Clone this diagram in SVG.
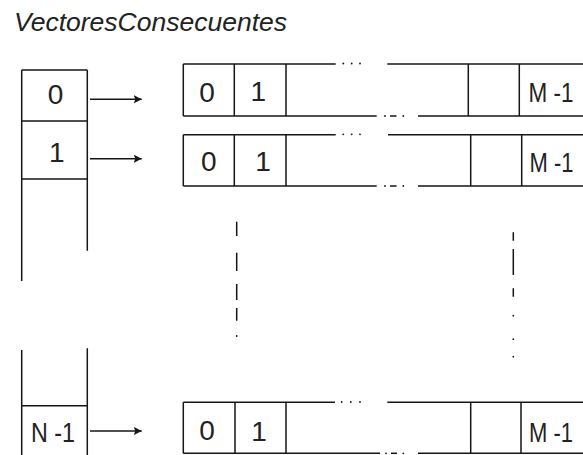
<svg xmlns="http://www.w3.org/2000/svg" width="583" height="455" viewBox="0 0 583 455">
  <style>
    .ln { stroke: #161616; stroke-width: 1.5; fill: none; stroke-linecap: butt; }
    .dot { fill: #161616; }
    .lbl { font-family: "Liberation Sans", Arial, sans-serif; font-size: 28px; fill: #222; }
    .last { font-size: 27px; }
    .mid { text-anchor: middle; }
    .title { font-family: "Liberation Sans", Arial, sans-serif; font-size: 26px; font-style: italic; fill: #222; }
  </style>
  <defs>
    <marker id="head" markerUnits="userSpaceOnUse" markerWidth="10" markerHeight="10" refX="8" refY="5" orient="auto">
      <path d="M0,0.8 L8,5 L0,9.2 L1.6,5 Z" fill="#161616"/>
    </marker>
  </defs>

  <rect width="583" height="455" fill="#fff"/>

  <text class="title" x="14" y="31" textLength="273" lengthAdjust="spacingAndGlyphs">VectoresConsecuentes</text>

  <!-- Index array of N slots -->
  <g id="index-array">
    <path class="ln" d="M21.7,70 H87.3 M21.7,70 V281 M87.3,70 V250.7 M21.7,121 H87.3 M21.7,179 H87.3"/>
    <path class="ln" d="M21.7,350 V455 M87.3,348.3 V455 M21.7,405.7 H87.3"/>
    <text class="lbl mid" x="55.5" y="104">0</text>
    <text class="lbl mid" x="56.8" y="161.5">1</text>
    <text class="lbl" x="31" y="442" textLength="44" lengthAdjust="spacingAndGlyphs">N -1</text>
  </g>

  <!-- Vector for slot 0 -->
  <g id="vector-0">
    <path class="ln" d="M183.3,64 H335.7 M387.3,64 H583 M183.3,116 H376.7 M418,116 H583 M183.3,64 V116 M234.3,64 V116 M286,64 V116 M468.3,64 V116 M519.3,64 V116"/>
    <circle class="dot" cx="343.3" cy="63.5" r="0.9"/>
    <circle class="dot" cx="351.7" cy="63.5" r="0.9"/>
    <circle class="dot" cx="360" cy="63.5" r="0.9"/>
    <circle class="dot" cx="385" cy="116" r="0.9"/>
    <path class="ln" d="M390,116 H396.5"/>
    <circle class="dot" cx="403.3" cy="116" r="0.9"/>
    <text class="lbl mid" x="207" y="101.8">0</text>
    <text class="lbl mid" x="258.3" y="101">1</text>
    <text class="lbl last" x="528.5" y="102" textLength="45" lengthAdjust="spacingAndGlyphs">M -1</text>
  </g>

  <!-- Vector for slot 1 -->
  <g id="vector-1">
    <path class="ln" d="M183.3,134.7 H335.7 M388,134.7 H583 M183.3,186 H376.7 M418,186 H583 M183.3,134.7 V186 M234.3,134.7 V186 M286,134.7 V186 M470.7,134.7 V186 M521.7,134.7 V186"/>
    <circle class="dot" cx="343.3" cy="134.3" r="0.9"/>
    <circle class="dot" cx="351.7" cy="134.3" r="0.9"/>
    <circle class="dot" cx="360" cy="134.3" r="0.9"/>
    <circle class="dot" cx="385" cy="186" r="0.9"/>
    <path class="ln" d="M390,186 H396.5"/>
    <circle class="dot" cx="403.3" cy="186" r="0.9"/>
    <text class="lbl mid" x="208.8" y="171.2">0</text>
    <text class="lbl mid" x="263" y="170.7">1</text>
    <text class="lbl last" x="529.5" y="171.5" textLength="44" lengthAdjust="spacingAndGlyphs">M -1</text>
  </g>

  <!-- Vector for slot N-1 -->
  <g id="vector-n-1">
    <path class="ln" d="M183.3,402.3 H335 M387.3,402.3 H583 M183.3,453.3 H380 M418,453.3 H583 M183.3,402.3 V453.3 M235,402.3 V453.3 M286,402.3 V453.3 M470.7,402.3 V453.3 M521,402.3 V453.3"/>
    <circle class="dot" cx="341.7" cy="402" r="0.9"/>
    <circle class="dot" cx="350.8" cy="402" r="0.9"/>
    <circle class="dot" cx="360" cy="402" r="0.9"/>
    <circle class="dot" cx="386" cy="453.3" r="0.9"/>
    <path class="ln" d="M391,453.3 H397"/>
    <circle class="dot" cx="403.3" cy="453.3" r="0.9"/>
    <text class="lbl mid" x="207" y="439.5">0</text>
    <text class="lbl mid" x="259" y="440.5">1</text>
    <text class="lbl last" x="529" y="441.5" textLength="44" lengthAdjust="spacingAndGlyphs">M -1</text>
  </g>

  <!-- Vertical continuation marks between rows -->
  <g id="continuation">
    <path class="ln" d="M236.7,221.7 V236 M236.7,252.7 V271 M236.7,284 V300 M236.7,308 V320.7"/>
    <circle class="dot" cx="236.7" cy="336" r="0.9"/>
    <path class="ln" d="M513.3,232.3 V240.7 M513.3,249 V275 M513.3,288.3 V296.7"/>
    <circle class="dot" cx="513.3" cy="315.7" r="0.9"/>
    <circle class="dot" cx="513.3" cy="339.2" r="0.9"/>
    <circle class="dot" cx="513.3" cy="356.7" r="0.9"/>
  </g>

  <!-- Pointers from slots to their vectors -->
  <g id="connectors">
    <line class="ln" x1="90" y1="99.3" x2="141.7" y2="99.3" marker-end="url(#head)"/>
    <line class="ln" x1="90" y1="158.7" x2="141.7" y2="158.7" marker-end="url(#head)"/>
    <line class="ln" x1="90" y1="431" x2="141.7" y2="431" marker-end="url(#head)"/>
  </g>
</svg>
